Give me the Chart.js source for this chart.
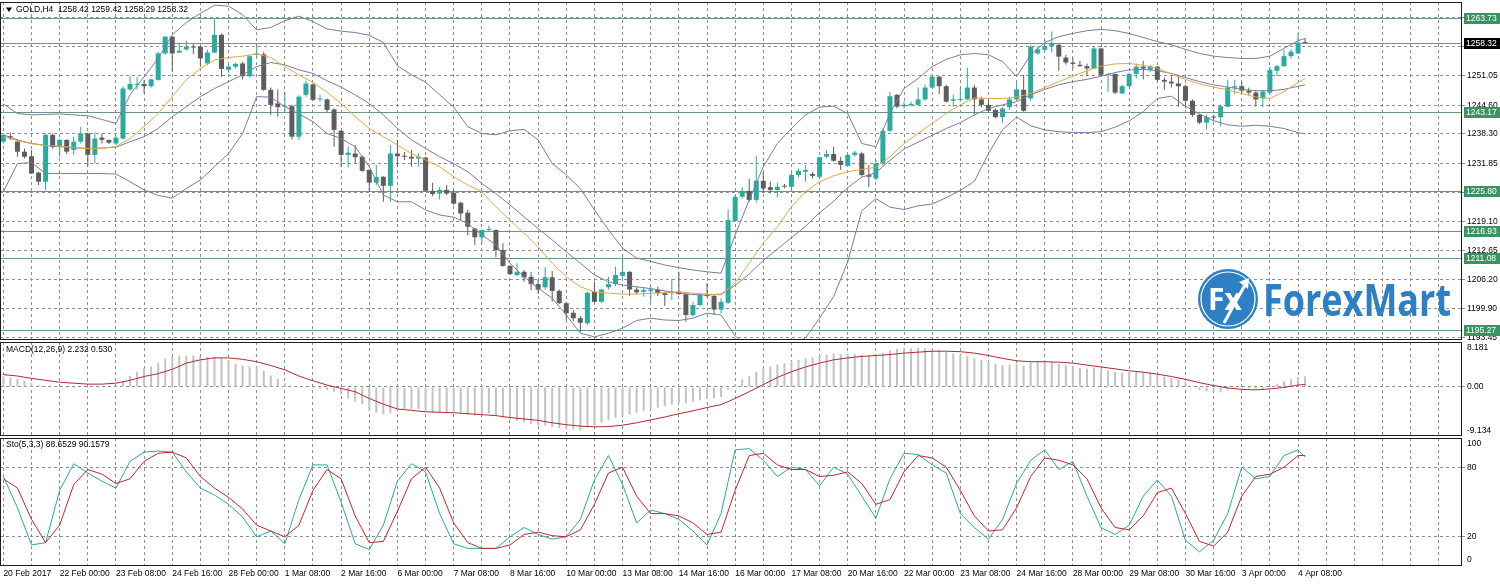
<!DOCTYPE html>
<html>
<head>
<meta charset="utf-8">
<title>GOLD,H4</title>
<script src="https://cdn.jsdelivr.net/npm/chart.js@4.4.1/dist/chart.umd.min.js"></script>
<style>
  html, body { margin: 0; padding: 0; background: #fff; }
  #wrap { position: relative; width: 1500px; height: 585px; overflow: hidden; background: #fff; }
  canvas { position: absolute; left: 0; }
</style>
</head>
<body>
<div id="wrap">
  <canvas id="priceChart" width="1500" height="341" style="top:0"></canvas>
  <canvas id="macdChart" width="1500" height="94" style="top:342px"></canvas>
  <canvas id="stoChart" width="1500" height="147" style="top:438px"></canvas>
</div>
<script>
// ---- data ----
const xLabels = ['20 Feb 2017', '22 Feb 00:00', '23 Feb 08:00', '24 Feb 16:00', '28 Feb 00:00', '1 Mar 08:00',
  '2 Mar 16:00', '6 Mar 00:00', '7 Mar 08:00', '8 Mar 16:00', '10 Mar 00:00', '13 Mar 08:00', '14 Mar 16:00',
  '16 Mar 00:00', '17 Mar 08:00', '20 Mar 16:00', '22 Mar 00:00', '23 Mar 08:00', '24 Mar 16:00', '28 Mar 00:00',
  '29 Mar 08:00', '30 Mar 16:00', '3 Apr 00:00', '4 Apr 08:00'];

const open = [
  1236.6,1237.8,1236.6,1234.4,1233.4,1229.8,1227.8,1238.1,1235.5,1237.0,
  1234.8,1236.6,1238.4,1233.7,1237.5,1237.0,1236.2,1237.3,1248.1,1249.1,
  1249.3,1248.8,1250.2,1256.0,1259.7,1256.2,1256.9,1257.5,1257.5,1253.8,
  1256.2,1260.1,1252.4,1253.1,1253.8,1251.0,1255.7,1255.8,1248.0,1245.0,
  1244.3,1244.4,1237.7,1246.9,1249.2,1245.9,1245.9,1243.7,1239.0,1233.7,
  1234.0,1233.3,1230.4,1227.6,1228.9,1226.9,1234.0,1233.4,1233.3,1232.9,
  1233.1,1225.8,1225.2,1226.0,1225.4,1223.2,1221.0,1217.5,1215.6,1217.2,
  1217.2,1212.8,1209.3,1207.3,1208.0,1206.9,1205.3,1204.6,1206.8,1203.8,
  1201.1,1199.0,1197.8,1196.7,1203.6,1201.4,1204.6,1205.3,1207.1,1208.0,
  1204.1,1203.6,1203.8,1204.1,1203.3,1203.3,1203.6,1203.1,1198.5,1200.7,
  1202.9,1202.7,1199.7,1201.2,1219.2,1224.5,1225.8,1223.8,1228.0,1226.6,
  1226.0,1226.9,1226.7,1229.3,1230.0,1229.5,1228.9,1233.3,1233.9,1232.4,
  1231.3,1233.7,1234.0,1229.3,1228.5,1231.8,1239.0,1246.9,1244.4,1244.6,
  1244.7,1245.9,1248.5,1250.9,1248.8,1245.6,1245.8,1245.9,1248.5,1245.9,
  1244.7,1243.6,1242.0,1244.2,1245.9,1248.0,1246.1,1256.0,1256.8,1257.6,
  1257.9,1255.1,1254.0,1253.5,1253.2,1252.7,1257.1,1251.3,1251.5,1247.2,
  1248.8,1251.5,1253.1,1252.4,1253.1,1250.2,1249.8,1249.4,1248.8,1245.6,
  1242.5,1240.8,1242.0,1242.0,1244.3,1248.5,1248.8,1247.8,1247.4,1246.1,
  1247.4,1252.2,1253.2,1255.4,1256.0,1258.42];
const high = [
  1238.4,1238.6,1237.0,1235.1,1234.8,1230.0,1238.4,1238.4,1237.3,1237.1,
  1237.7,1239.9,1238.6,1238.6,1238.4,1237.1,1237.7,1248.8,1251.0,1250.9,
  1250.2,1250.5,1256.4,1259.8,1259.8,1258.4,1258.8,1258.1,1257.6,1256.8,
  1263.5,1260.4,1253.5,1254.0,1254.2,1255.7,1258.2,1256.4,1248.5,1248.1,
  1247.6,1244.7,1246.9,1250.0,1249.4,1246.9,1246.1,1243.9,1239.2,1235.5,
  1235.9,1233.5,1230.5,1231.5,1229.0,1235.9,1237.0,1234.4,1234.8,1234.0,
  1233.3,1227.6,1226.7,1227.1,1226.0,1223.4,1221.6,1217.7,1217.3,1218.1,
  1217.3,1214.3,1209.5,1209.9,1208.4,1208.0,1206.3,1209.0,1208.2,1204.1,
  1201.4,1199.6,1198.3,1203.6,1205.8,1204.3,1206.9,1209.1,1211.2,1208.2,
  1204.7,1204.6,1204.7,1204.7,1203.6,1206.5,1208.0,1203.3,1201.4,1203.3,
  1205.5,1202.9,1202.2,1221.7,1224.9,1226.6,1228.5,1233.5,1230.0,1227.8,
  1227.6,1227.3,1229.8,1230.7,1231.5,1230.0,1233.3,1234.8,1235.5,1233.3,
  1234.0,1234.6,1234.4,1231.5,1232.6,1239.5,1247.6,1247.1,1245.4,1245.4,
  1248.5,1249.1,1251.0,1251.0,1249.1,1246.9,1248.5,1252.9,1249.1,1246.5,
  1245.8,1243.9,1244.2,1246.5,1249.8,1251.3,1257.9,1257.5,1259.1,1260.8,
  1258.2,1255.7,1255.1,1254.4,1253.8,1257.5,1257.3,1251.6,1251.6,1249.1,
  1251.8,1253.8,1254.4,1253.5,1253.2,1250.7,1251.0,1250.9,1249.1,1245.9,
  1242.7,1242.5,1242.5,1244.7,1250.2,1250.2,1249.8,1248.5,1247.8,1248.0,
  1253.1,1253.5,1256.8,1256.9,1260.4,1259.42];
const low = [
  1236.2,1237.0,1233.3,1232.9,1229.5,1227.1,1226.0,1235.1,1233.3,1233.9,
  1233.7,1236.2,1231.1,1231.8,1236.2,1236.1,1235.9,1237.1,1247.8,1248.1,
  1247.2,1248.5,1250.0,1255.7,1252.0,1256.0,1256.6,1255.9,1253.1,1253.5,
  1256.0,1250.9,1251.8,1252.7,1250.3,1250.7,1255.3,1247.8,1242.5,1242.1,
  1243.2,1237.1,1237.0,1246.5,1245.6,1245.4,1243.0,1235.5,1231.1,1231.0,
  1231.8,1230.0,1225.6,1227.1,1223.4,1223.4,1231.1,1232.6,1231.1,1231.1,
  1225.6,1224.6,1223.9,1224.9,1222.7,1219.4,1216.1,1213.9,1214.3,1216.8,
  1211.2,1209.1,1207.3,1207.1,1205.8,1204.0,1203.1,1204.1,1201.4,1200.9,
  1197.4,1197.2,1194.8,1196.3,1201.2,1201.2,1204.1,1204.9,1206.6,1202.7,
  1203.1,1202.5,1201.4,1202.7,1200.5,1201.8,1202.9,1197.0,1198.1,1200.5,
  1202.4,1198.5,1198.9,1200.9,1219.0,1224.1,1223.4,1223.2,1225.4,1225.2,
  1224.4,1226.3,1226.1,1228.8,1227.8,1228.5,1228.5,1232.9,1232.2,1230.4,
  1231.1,1233.3,1228.9,1226.6,1228.2,1231.3,1238.8,1243.9,1243.9,1244.4,
  1244.4,1245.6,1248.3,1247.1,1245.2,1244.3,1245.4,1245.8,1242.7,1244.2,
  1243.2,1241.7,1240.8,1243.6,1245.8,1243.2,1245.6,1255.7,1256.4,1256.2,
  1252.2,1253.5,1252.7,1253.1,1251.0,1252.5,1251.0,1247.6,1247.1,1247.1,
  1248.5,1250.5,1250.3,1252.0,1249.8,1248.0,1248.5,1244.3,1243.9,1242.1,
  1240.5,1239.3,1241.2,1240.0,1244.2,1247.1,1247.4,1246.9,1244.3,1244.2,
  1247.1,1251.0,1253.1,1254.9,1255.9,1258.29];
const close = [
  1238.1,1237.5,1234.4,1233.3,1229.6,1227.8,1238.1,1235.4,1237.0,1234.4,
  1236.6,1238.4,1233.7,1237.3,1237.0,1236.4,1237.5,1248.3,1249.3,1249.3,
  1248.8,1250.3,1256.0,1259.7,1256.0,1256.6,1257.5,1257.3,1254.9,1256.2,
  1260.1,1252.6,1253.1,1253.7,1251.0,1255.4,1256.0,1248.0,1244.7,1244.2,
  1244.4,1237.7,1246.5,1249.4,1245.8,1246.1,1243.6,1239.2,1233.7,1234.2,
  1233.2,1230.2,1227.6,1228.8,1226.9,1234.0,1233.4,1233.3,1232.9,1233.3,
  1225.8,1225.1,1226.0,1225.2,1223.0,1220.8,1217.9,1215.6,1217.2,1217.3,
  1212.8,1209.3,1207.5,1208.0,1206.8,1205.3,1204.1,1206.8,1203.8,1201.1,
  1198.9,1197.8,1196.8,1203.4,1201.4,1204.1,1205.3,1207.3,1208.0,1204.1,
  1203.5,1204.0,1204.1,1203.3,1202.9,1203.6,1203.1,1198.5,1200.7,1202.9,
  1202.7,1199.7,1201.4,1219.4,1224.5,1225.8,1223.8,1228.0,1226.3,1226.0,
  1226.7,1226.7,1229.3,1230.2,1230.4,1229.1,1233.2,1233.9,1232.4,1231.5,
  1233.7,1234.2,1229.3,1228.9,1231.8,1239.0,1246.6,1244.3,1244.7,1244.9,
  1245.9,1248.5,1250.9,1248.8,1245.4,1245.9,1246.0,1248.5,1245.9,1244.7,
  1243.4,1242.0,1243.9,1245.9,1248.1,1243.4,1257.5,1256.9,1257.6,1258.1,
  1255.3,1254.0,1253.7,1253.2,1252.7,1257.1,1251.3,1251.5,1247.4,1248.8,
  1251.5,1253.1,1252.7,1253.1,1250.2,1249.8,1249.4,1248.8,1245.6,1242.5,
  1240.8,1242.0,1241.9,1244.4,1248.5,1248.8,1247.8,1247.4,1245.9,1247.6,
  1252.4,1253.2,1255.4,1256.4,1258.4,1258.32];

// indicator lines, sampled every second bar
const lineBars = [0,2,4,6,8,10,12,14,16,18,20,22,24,26,28,30,32,34,36,38,40,42,44,46,48,50,52,54,56,58,
  60,62,64,66,68,70,72,74,76,78,80,82,84,86,88,90,92,94,96,98,100,102,104,106,108,110,112,114,116,118,
  120,122,124,126,128,130,132,134,136,138,140,142,144,146,148,150,152,154,156,158,160,162,164,166,168,170,
  172,174,176,178,180,182,184,185];
const upperBand = [
  1244.9,1242.8,1242.5,1242.6,1242.7,1242.5,1242.3,1241.5,1240.6,1246.9,
  1250.9,1254.9,1260.1,1262.8,1264.8,1266.6,1266.4,1264.5,1261.2,1261.7,
  1263.2,1264.2,1263.0,1261.4,1260.9,1260.6,1260.0,1258.4,1253.3,1251.3,
  1249.7,1246.9,1244.2,1239.9,1238.4,1238.1,1239.0,1239.3,1237.0,1231.8,
  1229.3,1226.3,1221.6,1217.2,1213.2,1211.0,1210.3,1209.5,1208.9,1208.4,
  1208.0,1207.7,1216.1,1223.8,1231.1,1236.2,1239.5,1242.5,1244.2,1244.4,
  1242.8,1236.2,1235.5,1242.8,1248.3,1250.5,1253.1,1254.7,1255.7,1256.0,
  1255.7,1254.2,1250.9,1255.7,1258.4,1259.7,1260.4,1261.0,1261.3,1261.0,
  1260.4,1259.5,1258.6,1257.9,1256.9,1256.0,1255.4,1255.1,1254.9,1254.9,
  1255.4,1257.1,1258.8,1259.3];
const midBand = [
  1238.1,1237.0,1236.2,1235.8,1235.5,1235.3,1235.1,1235.2,1235.4,1236.6,
  1237.7,1239.5,1242.1,1244.3,1246.5,1248.3,1249.8,1251.3,1253.1,1254.0,
  1253.5,1252.4,1251.6,1250.0,1248.6,1246.9,1245.0,1242.5,1239.5,1237.0,
  1235.1,1233.3,1231.8,1230.0,1227.4,1225.2,1222.7,1220.1,1217.5,1215.0,
  1212.4,1209.9,1207.3,1205.8,1205.1,1204.7,1204.3,1203.8,1203.3,1203.0,
  1202.9,1203.1,1205.0,1207.5,1210.5,1213.0,1215.5,1218.0,1221.0,1223.5,
  1226.5,1228.8,1229.8,1232.5,1235.0,1236.5,1238.0,1239.5,1240.8,1242.5,
  1243.9,1244.7,1245.4,1246.9,1248.1,1249.1,1249.8,1250.3,1251.0,1251.8,
  1252.4,1252.5,1252.2,1251.6,1250.7,1249.8,1249.1,1248.6,1248.1,1247.8,
  1247.8,1248.1,1248.8,1249.1];
const lowerBand = [
  1225.6,1231.8,1232.0,1229.6,1229.6,1229.6,1229.6,1229.6,1229.5,1227.8,
  1226.0,1224.8,1224.2,1226.3,1228.2,1231.1,1234.0,1238.4,1246.5,1246.4,
  1244.3,1242.7,1241.0,1238.4,1237.3,1235.5,1231.1,1224.9,1223.4,1223.4,
  1221.6,1220.5,1220.0,1218.6,1216.1,1213.9,1209.9,1206.9,1204.4,1202.2,
  1198.5,1194.5,1193.7,1194.5,1195.6,1197.3,1197.8,1197.4,1197.3,1197.8,
  1198.9,1198.5,1193.9,1191.2,1189.9,1189.8,1191.5,1193.5,1197.8,1202.6,
  1210.2,1221.4,1224.1,1222.2,1221.7,1222.5,1222.9,1224.3,1225.9,1227.9,
  1234.0,1239.2,1242.0,1240.1,1239.2,1238.8,1238.6,1238.6,1238.8,1239.8,
  1241.2,1243.2,1246.1,1246.6,1244.4,1242.7,1241.2,1240.3,1240.0,1240.2,
  1240.0,1239.5,1238.6,1238.3];
const maLine = [
  1237.7,1236.8,1236.2,1235.8,1235.6,1235.3,1235.1,1235.2,1235.5,1237.3,
  1239.9,1242.8,1246.5,1250.2,1252.7,1254.6,1255.1,1255.4,1255.9,1255.1,
  1253.1,1251.3,1249.6,1247.5,1245.0,1242.1,1239.5,1237.7,1235.9,1234.0,
  1232.6,1231.1,1228.9,1227.1,1225.6,1222.3,1219.4,1216.5,1213.5,1209.9,
  1206.9,1204.7,1203.6,1203.3,1203.1,1203.1,1203.3,1203.4,1203.6,1203.3,
  1203.1,1202.9,1205.5,1209.9,1214.3,1217.9,1222.3,1225.6,1227.8,1229.1,
  1230.0,1230.5,1231.0,1233.3,1236.2,1238.4,1240.6,1242.8,1244.7,1246.2,
  1246.1,1246.1,1246.4,1247.2,1248.5,1249.8,1251.0,1252.2,1253.2,1253.7,
  1253.8,1253.4,1252.7,1251.5,1250.3,1249.3,1248.6,1248.0,1247.2,1246.4,
  1246.1,1247.6,1249.6,1250.5];

const levels = [1263.73, 1243.17, 1225.80, 1216.93, 1211.08, 1195.27];
const bidPrice = 1258.32;
const priceTicks = [1193.45, 1199.90, 1206.20, 1212.65, 1219.10, 1225.40, 1231.85, 1238.30, 1244.60, 1251.05, 1257.50, 1263.80];

// MACD(12,26,9): main per bar, signal sampled on lineBars
const macdMain = [
  2.2,2.0,1.7,1.3,0.8,0.4,0.2,0.1,-0.1,-0.2,
  -0.2,-0.1,-0.2,-0.1,0.0,0.1,0.2,1.2,2.3,3.2,
  4.0,4.3,5.1,5.9,6.4,6.6,6.6,6.6,6.4,6.3,
  6.3,6.0,5.5,4.9,4.5,4.2,4.2,3.4,2.4,1.7,
  0.8,0.1,-0.1,-0.1,-0.3,-0.4,-0.6,-1.0,-1.5,-2.4,
  -3.1,-3.6,-5.0,-5.4,-5.7,-5.5,-4.8,-4.7,-4.7,-4.6,
  -5.2,-5.4,-5.3,-5.2,-5.3,-5.5,-5.8,-6.0,-5.8,-5.5,
  -6.0,-6.4,-6.8,-7.1,-7.4,-7.7,-8.0,-8.1,-8.4,-8.6,
  -8.8,-9.0,-9.13,-8.5,-8.0,-7.5,-7.0,-6.5,-6.0,-5.8,
  -5.4,-5.0,-4.6,-4.3,-4.0,-3.7,-3.4,-3.4,-3.1,-2.8,
  -2.5,-2.4,-2.1,-0.6,0.6,1.6,2.3,3.2,3.8,4.3,
  4.7,5.0,5.4,5.7,6.0,6.2,6.6,6.8,7.0,6.9,
  6.9,6.9,6.7,6.6,6.7,7.1,7.7,8.0,8.1,8.1,
  8.18,8.1,8.0,7.8,7.4,7.0,6.7,6.4,6.0,5.7,
  5.3,4.8,4.6,4.7,4.9,4.4,5.2,5.4,5.4,5.3,
  4.9,4.6,4.3,4.0,3.8,4.1,3.7,3.5,3.1,3.0,
  3.1,3.2,3.1,3.0,2.6,2.2,1.9,1.6,1.0,0.2,
  -0.6,-0.9,-1.1,-1.1,-0.7,-0.4,-0.3,-0.3,-0.5,-0.4,
  0.3,0.7,1.2,1.6,2.1,2.232];
const macdSignal = [
  2.6,2.3,1.8,1.4,1.0,0.8,0.6,0.6,0.8,1.4,
  2.2,2.8,3.7,5.0,5.7,6.1,6.1,5.8,5.3,4.5,
  3.6,2.3,1.3,0.4,-0.3,-1.0,-2.4,-3.6,-4.6,-4.9,
  -5.2,-5.3,-5.4,-5.6,-5.8,-6.0,-6.4,-6.7,-7.0,-7.5,
  -7.9,-8.2,-8.35,-8.3,-8.0,-7.5,-6.9,-6.3,-5.6,-5.0,
  -4.3,-3.7,-2.4,-1.0,0.5,2.0,3.2,4.2,5.0,5.7,
  6.1,6.4,6.6,6.8,7.1,7.3,7.5,7.5,7.4,7.1,
  6.6,6.0,5.5,5.3,5.3,5.2,5.0,4.6,4.2,3.8,
  3.4,3.1,2.7,2.2,1.6,0.9,0.3,-0.2,-0.5,-0.6,
  -0.4,-0.1,0.4,0.53];
const macdTicks = [8.181, 0, -9.134];

// Stochastic(5,3,3), sampled on lineBars
const stoMain = [
  72,45,13,15,60,83,75,68,62,85,
  93,94,93,76,62,56,48,37,20,25,
  14,52,82,82,50,14,9,30,68,83,
  76,40,14,10,10,10,20,28,22,18,
  20,35,69,90,65,32,43,40,35,25,
  13,40,95,96,86,72,80,78,64,80,
  74,55,36,70,92,91,82,75,40,28,
  18,35,66,86,95,78,85,55,28,22,
  30,55,69,55,17,7,17,40,80,70,
  72,90,95,88.65];
const stoSignal = [
  70,62,35,15,30,65,78,74,66,70,
  85,92,93,88,72,62,54,44,30,25,
  20,30,60,78,70,38,15,16,42,70,
  80,62,32,15,10,10,13,22,24,21,
  20,26,48,75,80,55,40,40,38,32,
  22,24,60,90,92,82,78,78,72,73,
  76,66,48,52,76,90,88,80,60,38,
  25,26,45,72,88,86,82,70,45,28,
  26,38,58,62,40,16,12,24,55,72,
  74,80,90,90.16];
const stoTicks = [100, 80, 20, 0];

// ---- look ----
const FONT = "'Liberation Sans', Arial, sans-serif";
const GRID = '#8e8e8e';
const BULL = '#2aab9e';
const BEAR = '#5d5d5d';
const BAND = '#7b7ba3';
const X_MIN = -0.48, X_MAX = 207.3;

Chart.defaults.font.family = FONT;
Chart.defaults.font.size = 8.5;
Chart.defaults.color = '#000';
Chart.defaults.animation = false;

const pts = (xs, ys) => xs.map((x, i) => ({ x: x, y: ys[i] }));

function xScale(showLabels) {
  return {
    type: 'linear', min: X_MIN, max: X_MAX, offset: false,
    grid: { color: GRID, drawTicks: false, offset: false },
    border: { display: false, dash: [3, 3] },
    afterBuildTicks: s => {
      const t = [];
      for (let b = 0; b <= X_MAX; b += 4) t.push({ value: b });
      s.ticks = t;
    },
    ticks: {
      display: showLabels, autoSkip: false, maxRotation: 0, minRotation: 0, align: 'start', padding: 3,
      callback: v => (v % 8 === 0 && xLabels[v / 8]) ? xLabels[v / 8] : ''
    },
    afterFit: s => { s.height = showLabels ? 19 : 0; s.paddingLeft = 0; s.paddingRight = 0; }
  };
}

function yScale(min, max, ticks, fmt, gridShown) {
  return {
    position: 'right', min: min, max: max,
    grid: {
      color: c => (!gridShown || gridShown(c.tick.value)) ? GRID : 'rgba(0,0,0,0)',
      drawTicks: true, tickLength: 3
    },
    border: { display: false, dash: [3, 3] },
    afterBuildTicks: s => { s.ticks = ticks.map(v => ({ value: v })); },
    ticks: { autoSkip: false, padding: 2, callback: fmt },
    afterFit: s => { s.width = 38; s.paddingTop = 0; s.paddingBottom = 0; }
  };
}

const framePlugin = {
  id: 'frame',
  afterDraw(chart) {
    const { ctx, chartArea: a } = chart;
    ctx.save();
    ctx.strokeStyle = '#1e1e1e';
    ctx.lineWidth = 1;
    ctx.strokeRect(a.left + 0.5, a.top + 0.5, a.right - a.left - 1, a.bottom - a.top - 1);
    ctx.restore();
  }
};

const headerPlugin = {
  id: 'header',
  afterDraw(chart, args, opts) {
    const { ctx, chartArea: a } = chart;
    ctx.save();
    ctx.font = '8.5px ' + FONT;
    ctx.fillStyle = '#000';
    ctx.textBaseline = 'middle';
    let x = a.left + 6;
    const y = a.top + opts.dy;
    if (opts.marker) {
      ctx.beginPath();
      ctx.moveTo(x, y - 2.5); ctx.lineTo(x + 6, y - 2.5); ctx.lineTo(x + 3, y + 2);
      ctx.closePath(); ctx.fill();
      x += 10;
    }
    ctx.fillText(opts.text, x, y);
    ctx.restore();
  }
};

const levelPlugin = {
  id: 'levels',
  beforeDatasetsDraw(chart) {
    const { ctx, chartArea: a, scales: { y } } = chart;
    ctx.save();
    ctx.lineWidth = 1;
    ctx.strokeStyle = '#6f9485';
    levels.forEach(v => {
      const py = Math.round(y.getPixelForValue(v)) + 0.5;
      ctx.beginPath(); ctx.moveTo(a.left, py); ctx.lineTo(a.right, py); ctx.stroke();
    });
    ctx.strokeStyle = '#8a8a8a';
    const by = Math.round(y.getPixelForValue(bidPrice)) + 0.5;
    ctx.beginPath(); ctx.moveTo(a.left, by); ctx.lineTo(a.right, by); ctx.stroke();
    ctx.restore();
  },
  afterDraw(chart) {
    const { ctx, chartArea: a, scales: { y } } = chart;
    ctx.save();
    ctx.font = '8.5px ' + FONT;
    ctx.textBaseline = 'middle';
    const tag = (v, bg) => {
      const py = Math.round(y.getPixelForValue(v));
      ctx.fillStyle = bg;
      ctx.fillRect(a.right + 2, py - 5, 36, 11);
      ctx.fillStyle = '#fff';
      ctx.fillText(v.toFixed(2), a.right + 4, py + 0.5);
    };
    levels.forEach(v => tag(v, '#3a9462'));
    tag(bidPrice, '#000');
    ctx.restore();
  }
};

const logoPlugin = {
  id: 'logo',
  afterDraw(chart) {
    const ctx = chart.ctx;
    const cx = 1228, cy = 299, r = 30;
    ctx.save();
    ctx.fillStyle = '#2d80c3';
    ctx.beginPath(); ctx.arc(cx, cy, r, 0, Math.PI * 2); ctx.fill();
    ctx.strokeStyle = '#ffffff'; ctx.lineWidth = 1.2;
    ctx.beginPath(); ctx.arc(cx, cy, r - 3, 0, Math.PI * 2); ctx.stroke();
    ctx.fillStyle = '#fff';
    ctx.font = 'bold 30px "Open Sans", sans-serif';
    ctx.textBaseline = 'alphabetic';
    ctx.textAlign = 'center';
    ctx.fillText('Fx', cx - 3, cy + 11);
    ctx.strokeStyle = '#fff'; ctx.lineWidth = 3;
    ctx.beginPath(); ctx.moveTo(cx - 4, cy + 24); ctx.lineTo(cx + 18, cy - 16); ctx.stroke();
    ctx.beginPath(); ctx.moveTo(cx + 11, cy - 17); ctx.lineTo(cx + 21, cy - 21); ctx.lineTo(cx + 20, cy - 10); ctx.closePath(); ctx.fill();
    ctx.fillStyle = '#2d80c3';
    ctx.textAlign = 'left';
    ctx.font = 'bold 44px "Open Sans", sans-serif';
    const w = ctx.measureText('ForexMart').width;
    ctx.translate(1263, 316);
    ctx.scale(188 / w, 1);
    ctx.fillText('ForexMart', 0, 0);
    ctx.restore();
  }
};

const commonOpts = (layoutPad) => ({
  responsive: false, devicePixelRatio: 1, animation: false, events: [],
  layout: { padding: layoutPad },
  plugins: { legend: { display: false }, tooltip: { enabled: false } }
});

const candleColor = c => close[c.dataIndex] >= open[c.dataIndex] ? BULL : BEAR;

// ---- price panel ----
const priceOpts = commonOpts({ top: 2, bottom: 1, left: 0, right: 0 });
priceOpts.scales = {
  x: xScale(false),
  y: yScale(1193.01, 1267.31, priceTicks, v => v.toFixed(2))
};
priceOpts.plugins.header = { text: 'GOLD,H4  1258.42 1259.42 1258.29 1258.32', dy: 8, marker: true };

new Chart(document.getElementById('priceChart'), {
  type: 'line',
  data: {
    datasets: [
      { type: 'bar', data: low.map((l, i) => ({ x: i, y: [l, high[i]] })), backgroundColor: candleColor,
        barThickness: 1, grouped: false, borderWidth: 0, inflateAmount: 0, minBarLength: 1, order: 3 },
      { type: 'bar', data: open.map((o, i) => ({ x: i, y: [o, close[i]] })), backgroundColor: candleColor,
        barThickness: 5, grouped: false, borderWidth: 0, inflateAmount: 0, minBarLength: 1, order: 2 },
      { data: pts(lineBars, upperBand), borderColor: BAND, borderWidth: 1, pointRadius: 0, tension: 0, order: 1 },
      { data: pts(lineBars, midBand), borderColor: BAND, borderWidth: 1, pointRadius: 0, tension: 0, order: 1 },
      { data: pts(lineBars, lowerBand), borderColor: BAND, borderWidth: 1, pointRadius: 0, tension: 0, order: 1 },
      { data: pts(lineBars, maLine), borderColor: '#e2a844', borderWidth: 1, pointRadius: 0, tension: 0, order: 0 }
    ]
  },
  options: priceOpts,
  plugins: [levelPlugin, logoPlugin, framePlugin, headerPlugin]
});

// ---- MACD panel ----
const macdOpts = commonOpts({ top: 0, bottom: 0, left: 0, right: 0 });
macdOpts.scales = {
  x: xScale(false),
  y: yScale(-10.27, 9.43, macdTicks, v => v === 0 ? '0.00' : v.toFixed(3), v => v === 0)
};
macdOpts.plugins.header = { text: 'MACD(12,26,9) 2.232 0.530', dy: 8 };

new Chart(document.getElementById('macdChart'), {
  type: 'line',
  data: {
    datasets: [
      { type: 'bar', data: macdMain.map((v, i) => ({ x: i, y: v })), backgroundColor: '#c2c2c2',
        barThickness: 2, grouped: false, borderWidth: 0, inflateAmount: 0, order: 2 },
      { data: pts(lineBars, macdSignal), borderColor: '#b3282d', borderWidth: 1, pointRadius: 0, tension: 0, order: 1 }
    ]
  },
  options: macdOpts,
  plugins: [framePlugin, headerPlugin]
});

// ---- Stochastic panel ----
const stoOpts = commonOpts({ top: 0, bottom: 0, left: 0, right: 0 });
stoOpts.scales = {
  x: xScale(true),
  y: yScale(-5.17, 105.17, stoTicks, v => String(v), v => v === 80 || v === 20)
};
stoOpts.plugins.header = { text: 'Sto(5,3,3) 88.6529 90.1579', dy: 7 };

new Chart(document.getElementById('stoChart'), {
  type: 'line',
  data: {
    datasets: [
      { data: pts(lineBars, stoMain), borderColor: '#27aaa5', borderWidth: 1, pointRadius: 0, tension: 0, order: 2 },
      { data: pts(lineBars, stoSignal), borderColor: '#c4262b', borderWidth: 1, pointRadius: 0, tension: 0, order: 1 }
    ]
  },
  options: stoOpts,
  plugins: [framePlugin, headerPlugin]
});
</script>
</body>
</html>
